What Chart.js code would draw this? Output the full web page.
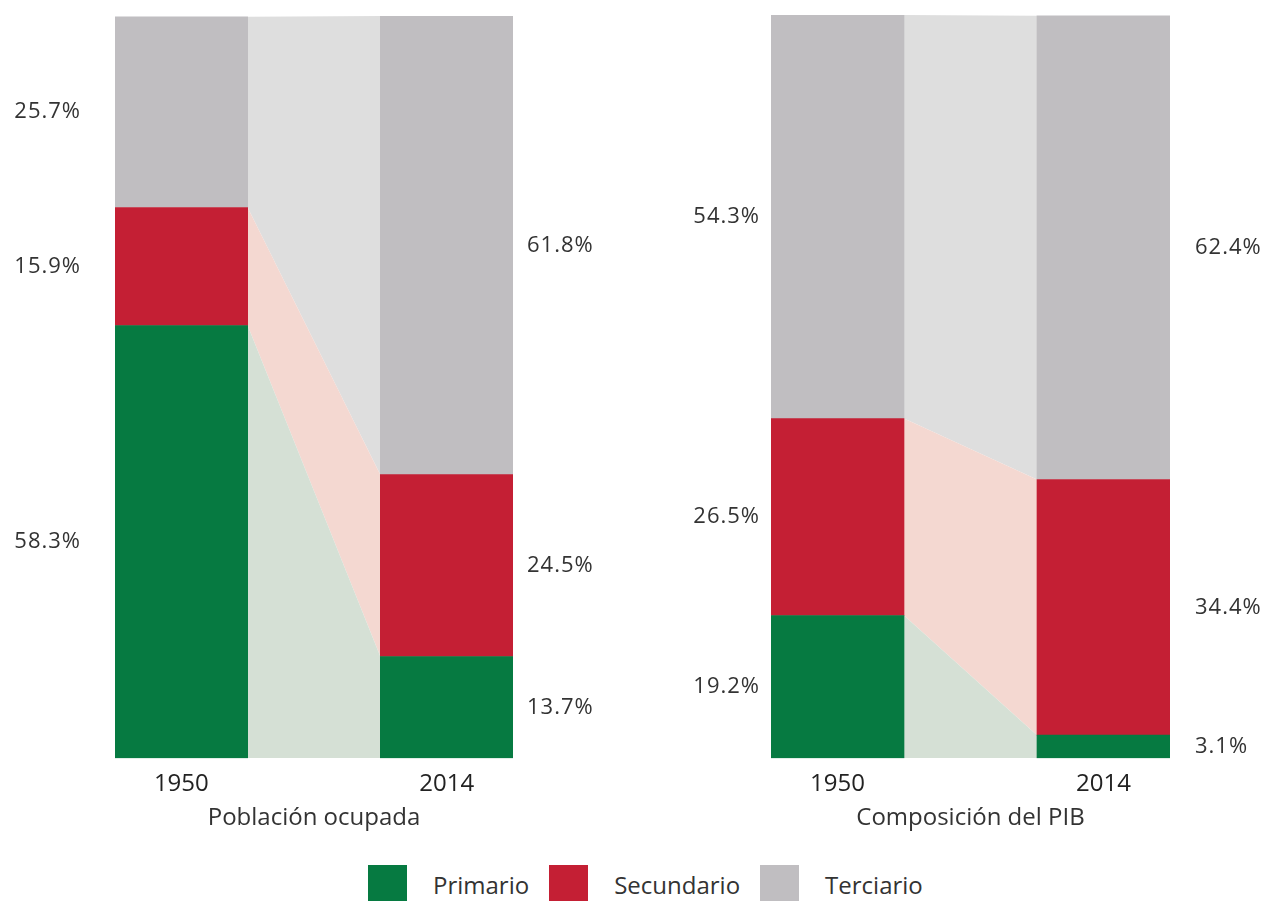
<!DOCTYPE html>
<html><head><meta charset="utf-8">
<script src="https://cdn.jsdelivr.net/npm/chart.js@4.4.0/dist/chart.umd.min.js"></script>
<style>
html,body{margin:0;padding:0;background:#fff;width:1264px;height:901px;overflow:hidden;font-family:"Open Sans",sans-serif;}
#wrapA{position:absolute;left:0;top:0;width:632px;height:850px;}
#wrapB{position:absolute;left:640px;top:0;width:624px;height:850px;}
#legend{position:absolute;left:368px;top:865px;display:flex;align-items:center;height:39px;font-size:24px;color:#333;white-space:nowrap;}
.sw{width:39px;height:39px;margin-right:26px;flex:none;display:inline-block;}
.lt{margin-right:20px;}
</style></head><body>
<div id="wrapA"><canvas id="cA"></canvas></div>
<div id="wrapB"><canvas id="cB"></canvas></div>
<div id="legend"></div>
<script>
// ---- data ----
const sectors = ['Primario', 'Secundario', 'Terciario'];
const years = ['1950', '2014'];
const panelTitles = ['Población ocupada', 'Composición del PIB'];
const empleo1950 = [58.3, 15.9, 25.7];
const empleo2014 = [13.7, 24.5, 61.8];
const pib1950 = [19.2, 26.5, 54.3];
const pib2014 = [3.1, 34.4, 62.4];
// ---- styles ----
const barColors = ['#067a41', '#c41f34', '#c0bec1'];
const bandColors = ['#d5e0d5', '#f4d8d1', '#dedede'];
const textColor = '#333333';
const FONT = '"Open Sans", sans-serif';

Chart.defaults.font.family = FONT;
Chart.defaults.color = textColor;

const fmt = v => v.toFixed(1) + '%';

const valueLabels = {
  id: 'valueLabels',
  afterDatasetsDraw(chart, args, opts) {
    const ctx = chart.ctx;
    ctx.save();
    ctx.font = opts.size + 'px ' + FONT;
    ctx.fillStyle = textColor;
    ctx.textBaseline = 'middle';
    try { ctx.letterSpacing = '1px'; } catch (e) {}
    chart.data.datasets.forEach((ds, di) => {
      if (ds.type !== 'bar') return;
      const meta = chart.getDatasetMeta(di);
      meta.data.forEach((bar, i) => {
        const v = ds.data[i];
        if (v == null) return;
        const p = bar.getProps(['x', 'y', 'base', 'width'], true);
        const cy = (p.y + p.base) / 2;
        if (i === 0) {
          ctx.textAlign = 'right';
          ctx.fillText(fmt(v), p.x - p.width / 2 - opts.gapLeft, cy);
        } else {
          ctx.textAlign = 'left';
          ctx.fillText(fmt(v), p.x + p.width / 2 + opts.gapRight, cy);
        }
      });
    });
    ctx.restore();
  }
};

function makePanel(canvasId, title, start, end, padding, gaps) {
  const labels = [years[0], '', years[1]];
  const iStart = 0, iEnd = labels.length - 1;
  const datasets = [];
  sectors.forEach((s, k) => {
    const data = labels.map(() => null);
    data[iStart] = start[k];
    data[iEnd] = end[k];
    datasets.push({
      type: 'bar', label: s, data,
      backgroundColor: barColors[k], borderWidth: 0,
      barPercentage: 1, categoryPercentage: 1, grouped: false,
      xAxisID: 'x', yAxisID: 'y'
    });
  });
  sectors.forEach((s, k) => {
    datasets.push({
      type: 'line', label: s + ' (cambio)',
      data: [{ x: iStart + 0.5, y: start[k] }, { x: iEnd - 0.5, y: end[k] }],
      backgroundColor: bandColors[k], borderWidth: 0, borderColor: 'rgba(0,0,0,0)',
      pointRadius: 0, tension: 0,
      fill: k === 0 ? 'origin' : '-1',
      xAxisID: 'x2', yAxisID: 'y', stack: 'bands'
    });
  });
  return new Chart(document.getElementById(canvasId), {
    type: 'bar',
    data: { labels, datasets },
    options: {
      responsive: true, maintainAspectRatio: false, animation: false,
      layout: { padding },
      plugins: {
        legend: { display: false }, tooltip: { enabled: false },
        valueLabels: { size: 22, gapLeft: gaps[0], gapRight: gaps[1] }
      },
      scales: {
        x: {
          type: 'category', stacked: true, offset: true,
          grid: { display: false, drawTicks: false }, border: { display: false },
          ticks: { color: '#222', font: { size: 24 }, padding: 11.6, autoSkip: false, maxRotation: 0 },
          title: { display: true, text: title, color: textColor, font: { size: 24 }, padding: { top: -6, bottom: 17 } }
        },
        x2: { type: 'linear', min: iStart - 0.5, max: iEnd + 0.5, offset: false, display: false,
              grid: { offset: false } },
        y: { stacked: true, min: 0, max: 100, display: false }
      }
    },
    plugins: [valueLabels]
  });
}

makePanel('cA', panelTitles[0], empleo1950, empleo2014, { left: 115, right: 119, top: 16, bottom: 0 }, [34, 14]);
makePanel('cB', panelTitles[1], pib1950, pib2014, { left: 131, right: 94, top: 15, bottom: 0 }, [11, 25]);

const leg = document.getElementById('legend');
sectors.forEach((s, i) => {
  const sw = document.createElement('span');
  sw.className = 'sw';
  sw.style.background = barColors[i];
  const t = document.createElement('span');
  t.className = 'lt';
  t.textContent = s;
  leg.append(sw, t);
});
</script>
</body></html>
